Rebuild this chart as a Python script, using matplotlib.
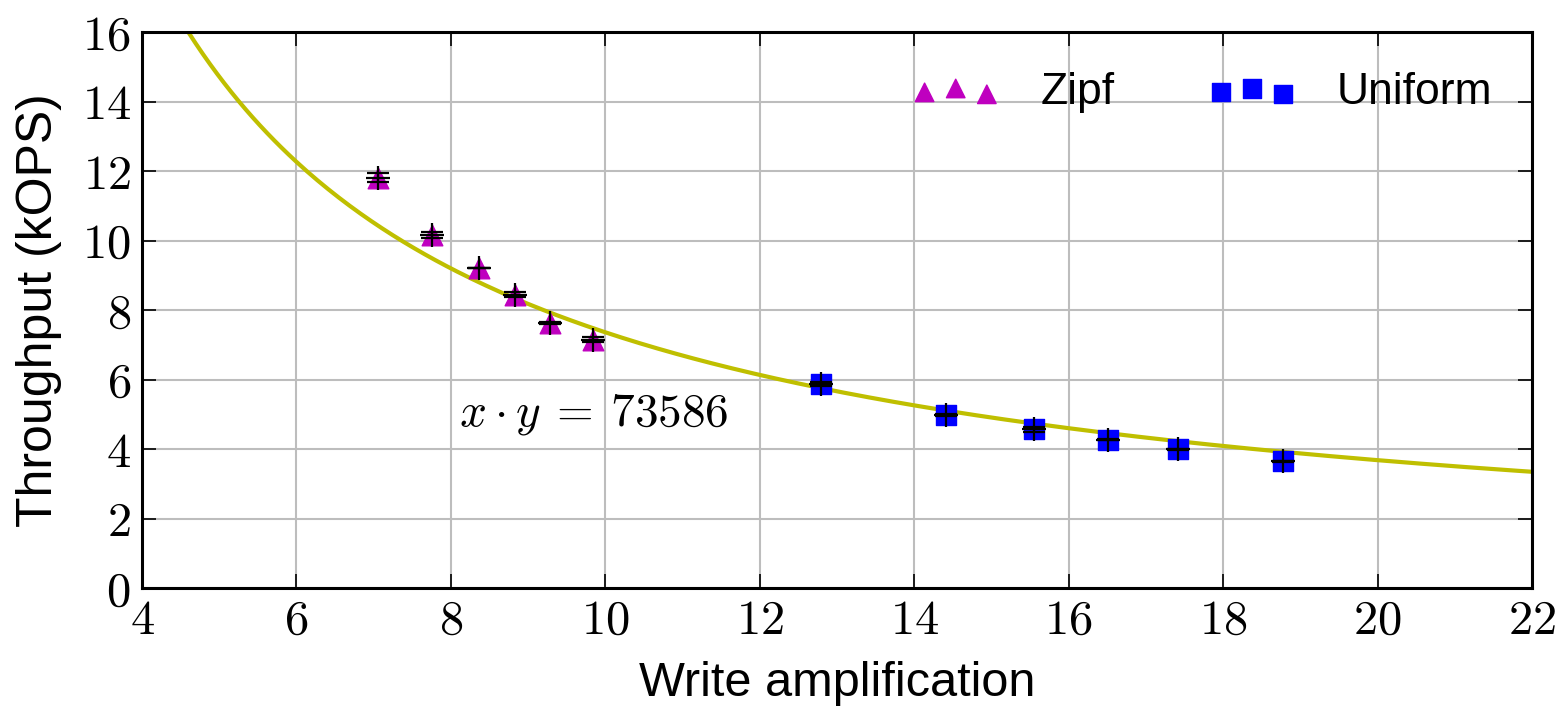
import numpy as np
import matplotlib
matplotlib.use("Agg")
import matplotlib.pyplot as plt
from matplotlib.ticker import FuncFormatter, MultipleLocator

plt.rcParams['mathtext.fontset'] = 'cm'
plt.rcParams['font.family'] = ['Liberation Sans', 'DejaVu Sans']

# Fitted curve x * y = 73586 ops  ->  y in kOPS
CURVE_K = 73586

# Zipf workload
zipf_wa = [7.06, 7.75, 8.36, 8.83, 9.29, 9.84]
zipf_tput = [11.80, 10.15, 9.21, 8.44, 7.63, 7.15]
zipf_err = [0.13, 0.09, 0.01, 0.07, 0.03, 0.08]

# Uniform workload
unif_wa = [12.79, 14.41, 15.55, 16.51, 17.42, 18.78]
unif_tput = [5.88, 4.98, 4.57, 4.27, 3.99, 3.65]
unif_err = [0.06, 0.02, 0.07, 0.01, 0.01, 0.01]

fig = plt.figure(figsize=(15.62, 7.10), dpi=100)
ax = fig.add_axes([0.0909, 0.1718, 0.8899, 0.7831])

# curve
xs = np.linspace(4.0, 22.5, 400)
ax.plot(xs, CURVE_K / 1000.0 / xs, color=(0.75, 0.75, 0), lw=3, zorder=2)

# markers
ax.scatter(zipf_wa, zipf_tput, marker='^', s=220, color=(0.75, 0, 0.75),
           edgecolors=(0.75, 0, 0.75), label='Zipf', zorder=3)
ax.scatter(unif_wa, unif_tput, marker='s', s=210, color='b',
           edgecolors='b', label='Uniform', zorder=3)

# error bars with black plus
for xv, yv, ev in [(zipf_wa, zipf_tput, zipf_err), (unif_wa, unif_tput, unif_err)]:
    ax.errorbar(xv, yv, yerr=ev, fmt='k+', markersize=17, mew=1.6,
                elinewidth=1.6, capsize=8, capthick=1.6, zorder=4)

ax.text(8.1, 5.0, r'$x \cdot y \:=\: 73586$', fontsize=34, va='center', ha='left')

ax.set_xlim(4, 22)
ax.set_ylim(0, 16)
ax.xaxis.set_major_locator(MultipleLocator(2))
ax.yaxis.set_major_locator(MultipleLocator(2))
fmt = FuncFormatter(lambda v, p: r'$%d$' % v)
ax.xaxis.set_major_formatter(fmt)
ax.yaxis.set_major_formatter(fmt)
ax.tick_params(direction='in', length=10, width=1.2, labelsize=35,
               top=True, right=True, pad=8)

ax.grid(True, color=(0.74, 0.74, 0.74), lw=1.5)
ax.set_axisbelow(True)
for s in ax.spines.values():
    s.set_linewidth(2.2)

ax.set_xlabel('Write amplification', fontsize=35, labelpad=12)
ax.set_ylabel('Throughput (kOPS)', fontsize=36, labelpad=14)

ax.legend(loc='upper right', ncol=2, frameon=False, fontsize=32,
          scatterpoints=3, columnspacing=2.1, handletextpad=0.9,
          borderaxespad=0.5, markerscale=0.9)

fig.savefig('out.png', dpi=100)
